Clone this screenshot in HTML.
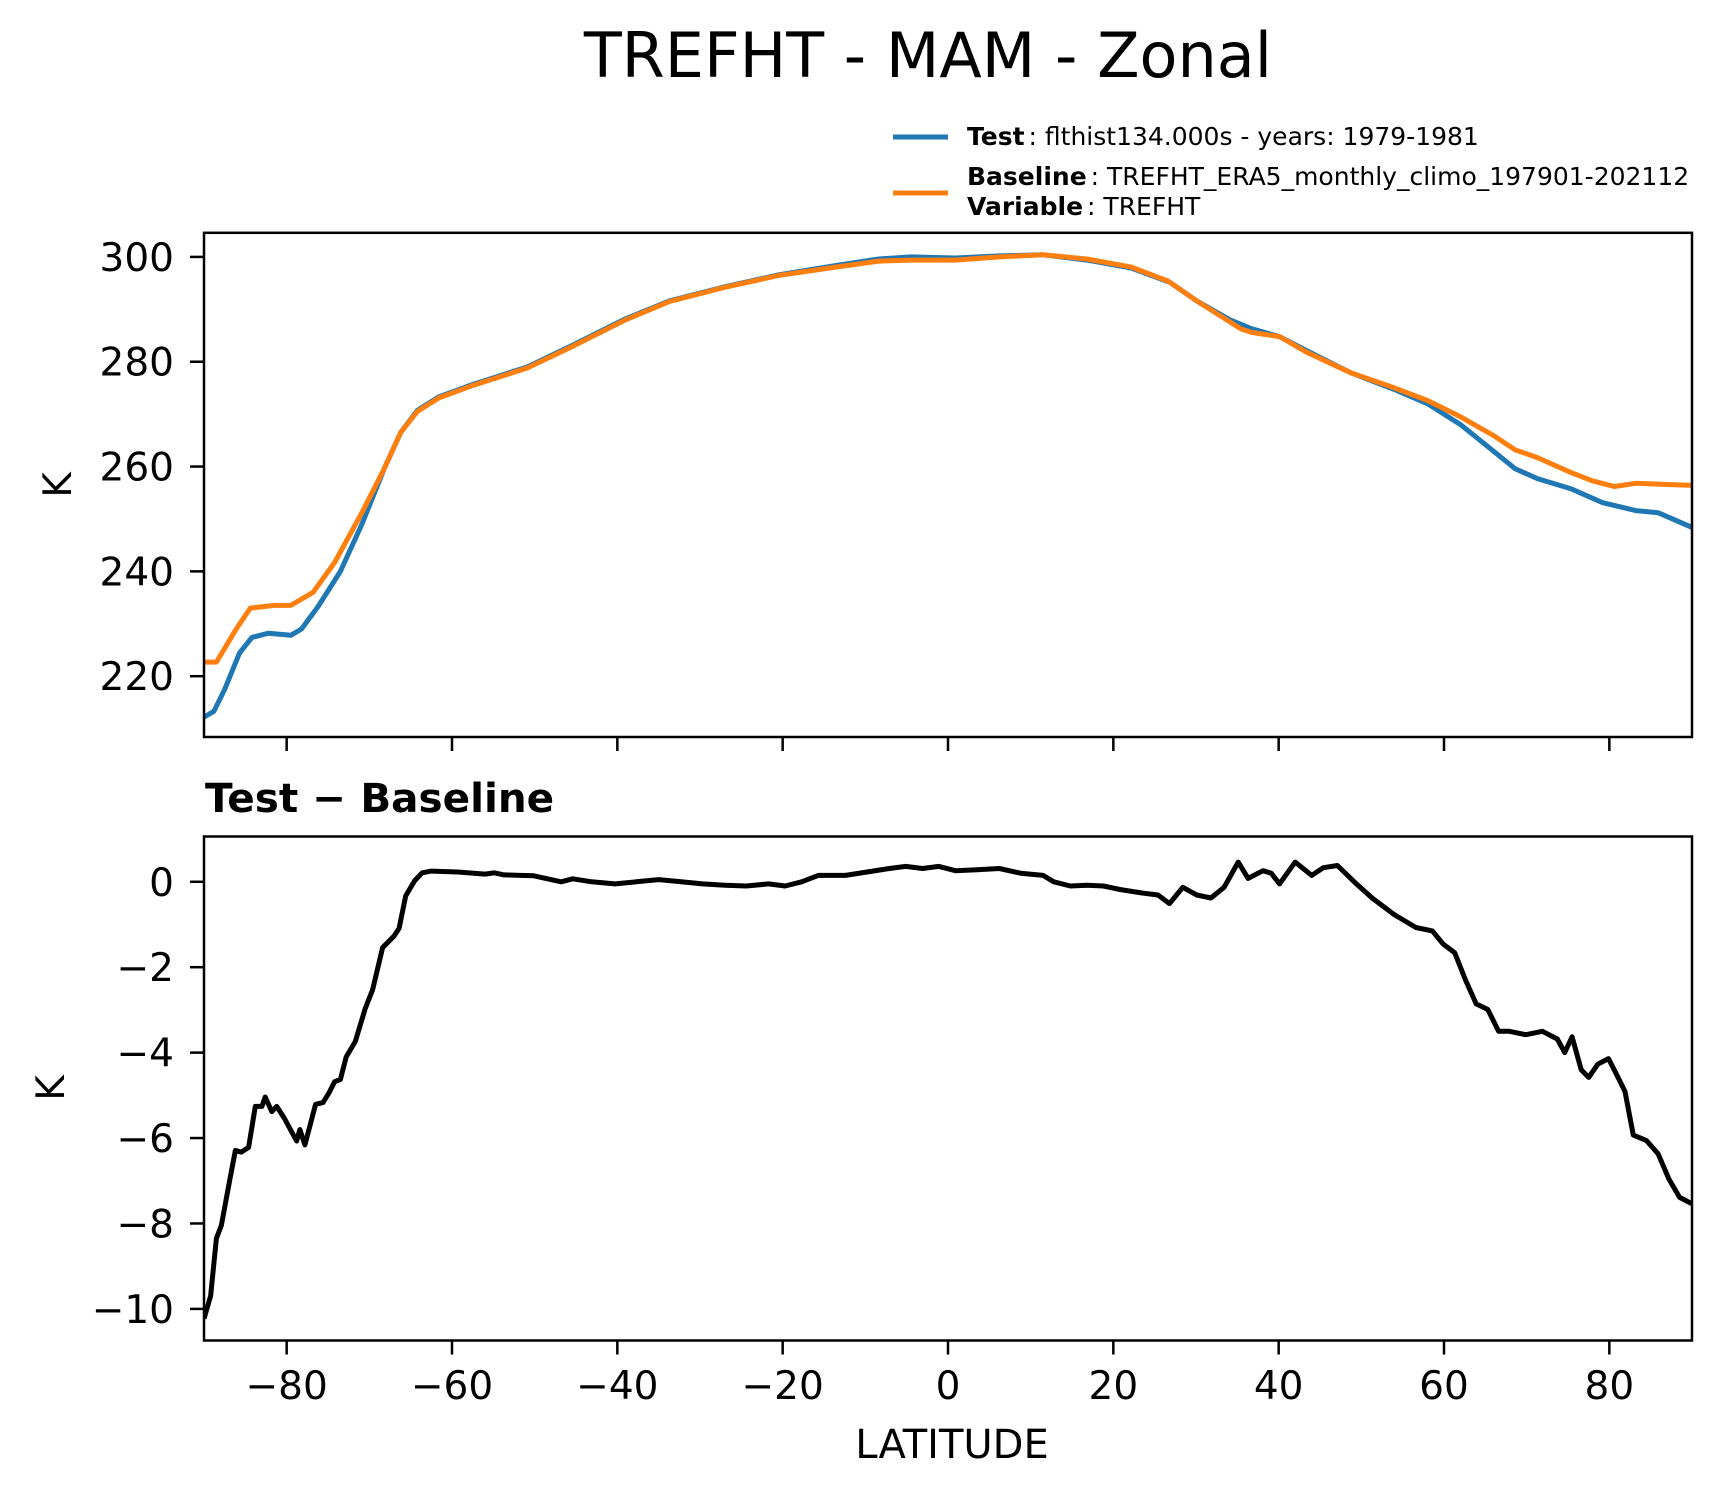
<!DOCTYPE html>
<html><head><meta charset="utf-8"><style>
html,body{margin:0;padding:0;background:#fff;}
svg{display:block;font-family:"DejaVu Sans","Liberation Sans",sans-serif;}
</style></head><body>
<svg id="chart" width="1721" height="1496" viewBox="0 0 1721 1496">
<text x="1272" y="77" text-anchor="end" font-size="62">TREFHT - MAM - Zonal</text>
<g>
<line x1="893" y1="137" x2="948" y2="137" stroke="#1f77b4" stroke-width="5"/>
<text x="967" y="145" font-size="25"><tspan font-weight="bold">Test</tspan><tspan dx="4">: flthist134.000s - years: 1979-1981</tspan></text>
<line x1="893" y1="193" x2="948" y2="193" stroke="#ff7f0e" stroke-width="5"/>
<text x="967" y="185" font-size="25"><tspan font-weight="bold">Baseline</tspan><tspan dx="4">: TREFHT_ERA5_monthly_climo_197901-202112</tspan></text>
<text x="967" y="215" font-size="25"><tspan font-weight="bold">Variable</tspan><tspan dx="4">: TREFHT</tspan></text>
</g>
<text x="205" y="812" font-size="40.5" font-weight="bold">Test − Baseline</text>
<text x="952" y="1458" text-anchor="middle" font-size="40">LATITUDE</text>
<text transform="translate(71,485) rotate(-90)" text-anchor="middle" font-size="39">K</text>
<text transform="translate(64,1088) rotate(-90)" text-anchor="middle" font-size="39">K</text>
<g id="top"></g>
<g id="bot"></g>
</svg>
<script>
const testLat = [-90,-88.8,-87.5,-85.7,-84.2,-82.2,-79.5,-78.2,-76.2,-73.5,-70.9,-68.2,-66.2,-64.2,-61.6,-57.6,-50.9,-45.6,-39,-33.7,-27,-20.4,-13.8,-8.4,-4.5,0.9,6.2,11.5,16.8,22.1,26.8,30.1,34.1,36.7,40.1,43.4,48.7,54,58,62,65.3,68.6,71.3,75.3,79.2,83.2,85.9,90];
const testVals = [212.2,213.3,217.5,224.4,227.4,228.2,227.8,229,233.3,240,249,259.6,266.5,270.7,273.3,275.6,279,283,288.2,291.6,294.3,296.6,298.3,299.6,300,299.8,300.2,300.4,299.4,297.9,295.2,291.6,288,286.3,284.8,282.1,277.9,274.7,272,268,263.8,259.6,257.7,255.8,253.1,251.6,251.2,248.4];
const baseLat = [-90,-88.5,-86.1,-84.4,-81.5,-79.5,-76.8,-74.2,-70.9,-68.2,-66.2,-64.2,-61.6,-57.6,-50.9,-45.6,-39,-33.7,-27,-20.4,-13.8,-8.4,-4.5,0.9,6.2,11.5,16.8,22.1,26.6,30.1,35.4,36.7,40.1,43.4,48.7,54,58,62,66,68.6,71.3,75.3,77.9,80.6,83.2,90];
const baseVals = [222.7,222.7,229,233,233.5,233.5,236,241.7,251.2,259.6,266.5,270.5,273.1,275.4,278.8,282.8,288,291.5,294.2,296.5,298,299.2,299.4,299.4,300,300.4,299.6,298.1,295.4,291.6,286.3,285.6,284.8,281.8,277.9,275,272.6,269.5,265.9,263.2,261.7,258.9,257.3,256.2,256.8,256.4];
const diffLat = [-90,-89.2,-88.5,-87.9,-86.9,-86.2,-85.5,-84.6,-83.8,-83,-82.6,-81.8,-81.2,-80.3,-78.8,-78.4,-77.8,-76.5,-75.6,-74.9,-74.2,-73.5,-72.8,-71.7,-70.5,-69.6,-68.4,-67,-66.4,-65.6,-64.5,-63.6,-62.5,-59.3,-56,-54.9,-53.7,-50.1,-46.8,-45.4,-43.1,-40.3,-37.7,-35,-32.3,-29.7,-27,-24.4,-21.7,-19.7,-17.7,-15.7,-12.4,-9.8,-7.1,-5.1,-3.1,-1.1,0.9,3.5,6.2,8.8,11.5,12.8,14.8,16.8,18.8,20.8,23.4,25.4,26.8,28.4,30.1,31.8,33.4,35.1,36.3,38.1,39.1,40.1,42,44,45.4,47.1,49.4,51.3,54,56.6,58.6,59.9,61.3,62.6,63.9,65.3,66.6,67.9,69.9,71.9,73.7,74.6,75.5,76.6,77.5,78.6,79.9,80.8,81.9,82.9,84.5,85.9,87.2,88.5,90];
const diffVals = [-10.23,-9.7,-8.35,-8.04,-7.0,-6.29,-6.33,-6.22,-5.26,-5.26,-5.04,-5.38,-5.26,-5.53,-6.07,-5.8,-6.16,-5.21,-5.17,-4.95,-4.68,-4.63,-4.1,-3.74,-2.97,-2.53,-1.54,-1.27,-1.09,-0.33,0.03,0.21,0.25,0.23,0.18,0.21,0.16,0.14,0.0,0.07,0.0,-0.05,0,0.05,0,-0.05,-0.08,-0.1,-0.05,-0.1,0,0.15,0.15,0.23,0.31,0.36,0.31,0.36,0.26,0.28,0.31,0.2,0.15,0,-0.1,-0.08,-0.1,-0.18,-0.26,-0.31,-0.51,-0.13,-0.31,-0.38,-0.13,0.46,0.08,0.26,0.2,-0.05,0.46,0.15,0.33,0.38,-0.05,-0.38,-0.77,-1.07,-1.15,-1.46,-1.66,-2.3,-2.86,-2.99,-3.5,-3.5,-3.58,-3.5,-3.68,-4.0,-3.63,-4.4,-4.58,-4.27,-4.14,-4.48,-4.91,-5.93,-6.06,-6.37,-6.96,-7.39,-7.54];
const xTicks = [-80,-60,-40,-20,0,20,40,60,80];
const topYTicks = [220,240,260,280,300];
const botYTicks = [-10,-8,-6,-4,-2,0];

const NS='http://www.w3.org/2000/svg';
const X0=204,X1=1692;
const xs = v => X0+(v+90)/180*(X1-X0);
function mk(tag,attrs,parent){const e=document.createElementNS(NS,tag);for(const k in attrs)e.setAttribute(k,attrs[k]);parent.appendChild(e);return e;}
const fmt = v => (v<0?'\u2212':'')+Math.abs(v);

function panel(g,top,bot,ymin,ymax,yTicks,labels,name){
  const ys = v => bot-(v-ymin)/(ymax-ymin)*(bot-top);
  
  
  yTicks.forEach(t=>{
    const l=mk('line',{x1:X0-14,x2:X0,y1:ys(t),y2:ys(t),stroke:'#000','stroke-width':2.5},g);
    
    
    const tx=mk('text',{x:X0-30,y:ys(t)+14,'text-anchor':'end','font-size':39},g);
    tx.textContent=fmt(t);
    
    
  });
  xTicks.forEach(t=>{
    const l=mk('line',{x1:xs(t),x2:xs(t),y1:bot,y2:bot+14,stroke:'#000','stroke-width':2.5},g);
    
    
    if(labels){
      const tx=mk('text',{x:xs(t),y:1399,'text-anchor':'middle','font-size':39},g);
      tx.textContent=fmt(t);
      
      
    }
  });
  return ys;
}
function line(g,lat,vals,ys,color,name){
  const d=lat.map((la,i)=>(i?'L':'M')+xs(la).toFixed(1)+','+ys(vals[i]).toFixed(1)).join(' ');
  const p=mk('path',{d:d,fill:'none',stroke:color,'stroke-width':5,'stroke-linejoin':'round'},g);
  p.setAttribute('clip-path','url(#clip-'+g.id+')');
  
  
}
function frame(g,top,bot,name){
  const r=mk('rect',{x:X0,y:top,width:X1-X0,height:bot-top,fill:'none',stroke:'#000','stroke-width':2.5},g);
  
  
}
const svg=document.getElementById('chart');
const defs=mk('defs',{},svg);
[['top',232.8,737],['bot',836.5,1340.5]].forEach(([id,t,b])=>{
  const c=mk('clipPath',{id:'clip-'+id},defs);
  mk('rect',{x:X0,y:t,width:X1-X0,height:b-t},c);
});
const gt=document.getElementById('top');
const ysT=panel(gt,232.8,737,208.4,304.6,topYTicks,false,'top');
line(gt,testLat,testVals,ysT,'#1f77b4','test-series-line');
line(gt,baseLat,baseVals,ysT,'#ff7f0e','baseline-series-line');
frame(gt,232.8,737,'top');
const gb=document.getElementById('bot');
const ysB=panel(gb,836.5,1340.5,-10.74,1.06,botYTicks,true,'bottom');
line(gb,diffLat,diffVals,ysB,'#000','difference-series-line');
frame(gb,836.5,1340.5,'bottom');
</script>
</body></html>
